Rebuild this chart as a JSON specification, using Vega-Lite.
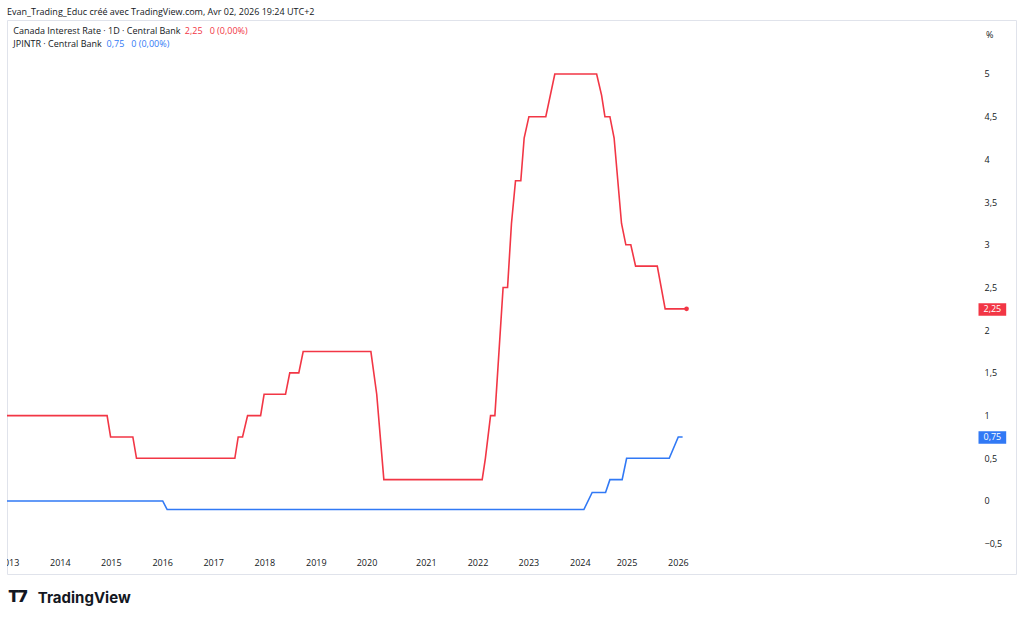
{
  "$schema": "https://vega.github.io/schema/vega-lite/v6.json",
  "autosize": {"type": "none"},
  "padding": {"left": 7, "top": 20, "right": 8, "bottom": 46},
  "width": 1009,
  "height": 554,
  "background": "#ffffff",
  "config": {
    "font": "Open Sans",
    "view": {"stroke": "#e0e3eb", "strokeWidth": 1}
  },
  "title": {
    "text": "Evan_Trading_Educ créé avec TradingView.com, Avr 02, 2026 19:24 UTC+2",
    "anchor": "start",
    "frame": "group",
    "offset": -4,
    "baseline": "alphabetic",
    "font": "Open Sans",
    "fontSize": 9,
    "fontWeight": "normal",
    "color": "#131722"
  },
  "datasets": {
    "rates": [
      {"series": "Canada Interest Rate", "date": "2012-12-01", "rate": 1.0},
      {"series": "Canada Interest Rate", "date": "2014-12-02", "rate": 1.0},
      {"series": "Canada Interest Rate", "date": "2014-12-27", "rate": 0.75},
      {"series": "Canada Interest Rate", "date": "2015-06-03", "rate": 0.75},
      {"series": "Canada Interest Rate", "date": "2015-06-29", "rate": 0.5},
      {"series": "Canada Interest Rate", "date": "2017-06-01", "rate": 0.5},
      {"series": "Canada Interest Rate", "date": "2017-06-25", "rate": 0.75},
      {"series": "Canada Interest Rate", "date": "2017-07-26", "rate": 0.75},
      {"series": "Canada Interest Rate", "date": "2017-08-31", "rate": 1.0},
      {"series": "Canada Interest Rate", "date": "2017-12-02", "rate": 1.0},
      {"series": "Canada Interest Rate", "date": "2017-12-27", "rate": 1.25},
      {"series": "Canada Interest Rate", "date": "2018-05-28", "rate": 1.25},
      {"series": "Canada Interest Rate", "date": "2018-06-27", "rate": 1.5},
      {"series": "Canada Interest Rate", "date": "2018-08-30", "rate": 1.5},
      {"series": "Canada Interest Rate", "date": "2018-09-30", "rate": 1.75},
      {"series": "Canada Interest Rate", "date": "2020-01-25", "rate": 1.75},
      {"series": "Canada Interest Rate", "date": "2020-03-01", "rate": 1.25},
      {"series": "Canada Interest Rate", "date": "2020-04-14", "rate": 0.25},
      {"series": "Canada Interest Rate", "date": "2022-01-31", "rate": 0.25},
      {"series": "Canada Interest Rate", "date": "2022-02-23", "rate": 0.5},
      {"series": "Canada Interest Rate", "date": "2022-04-01", "rate": 1.0},
      {"series": "Canada Interest Rate", "date": "2022-05-02", "rate": 1.0},
      {"series": "Canada Interest Rate", "date": "2022-06-30", "rate": 2.5},
      {"series": "Canada Interest Rate", "date": "2022-08-01", "rate": 2.5},
      {"series": "Canada Interest Rate", "date": "2022-08-29", "rate": 3.25},
      {"series": "Canada Interest Rate", "date": "2022-09-27", "rate": 3.75},
      {"series": "Canada Interest Rate", "date": "2022-11-04", "rate": 3.75},
      {"series": "Canada Interest Rate", "date": "2022-11-28", "rate": 4.25},
      {"series": "Canada Interest Rate", "date": "2023-01-01", "rate": 4.5},
      {"series": "Canada Interest Rate", "date": "2023-05-01", "rate": 4.5},
      {"series": "Canada Interest Rate", "date": "2023-07-04", "rate": 5.0},
      {"series": "Canada Interest Rate", "date": "2024-05-08", "rate": 5.0},
      {"series": "Canada Interest Rate", "date": "2024-06-16", "rate": 4.75},
      {"series": "Canada Interest Rate", "date": "2024-07-12", "rate": 4.5},
      {"series": "Canada Interest Rate", "date": "2024-08-20", "rate": 4.5},
      {"series": "Canada Interest Rate", "date": "2024-09-22", "rate": 4.25},
      {"series": "Canada Interest Rate", "date": "2024-11-19", "rate": 3.25},
      {"series": "Canada Interest Rate", "date": "2024-12-23", "rate": 3.0},
      {"series": "Canada Interest Rate", "date": "2025-01-28", "rate": 3.0},
      {"series": "Canada Interest Rate", "date": "2025-03-03", "rate": 2.75},
      {"series": "Canada Interest Rate", "date": "2025-08-04", "rate": 2.75},
      {"series": "Canada Interest Rate", "date": "2025-09-29", "rate": 2.25},
      {"series": "Canada Interest Rate", "date": "2026-02-28", "rate": 2.25},
      {"series": "JPINTR", "date": "2012-12-01", "rate": 0.0},
      {"series": "JPINTR", "date": "2016-01-01", "rate": 0.0},
      {"series": "JPINTR", "date": "2016-02-02", "rate": -0.1},
      {"series": "JPINTR", "date": "2024-01-29", "rate": -0.1},
      {"series": "JPINTR", "date": "2024-04-03", "rate": 0.1},
      {"series": "JPINTR", "date": "2024-07-17", "rate": 0.1},
      {"series": "JPINTR", "date": "2024-08-20", "rate": 0.25},
      {"series": "JPINTR", "date": "2024-11-24", "rate": 0.25},
      {"series": "JPINTR", "date": "2024-12-29", "rate": 0.5},
      {"series": "JPINTR", "date": "2025-10-28", "rate": 0.5},
      {"series": "JPINTR", "date": "2025-12-31", "rate": 0.75},
      {"series": "JPINTR", "date": "2026-01-31", "rate": 0.75}
    ],
    "years": [
      {"label": "2013", "date": "2013-01-01"},
      {"label": "2014", "date": "2014-01-01"},
      {"label": "2015", "date": "2015-01-01"},
      {"label": "2016", "date": "2016-01-01"},
      {"label": "2017", "date": "2017-01-01"},
      {"label": "2018", "date": "2018-01-01"},
      {"label": "2019", "date": "2019-01-01"},
      {"label": "2020", "date": "2020-01-01"},
      {"label": "2021", "date": "2021-01-01"},
      {"label": "2022", "date": "2022-01-01"},
      {"label": "2023", "date": "2023-01-01"},
      {"label": "2024", "date": "2024-01-01"},
      {"label": "2025", "date": "2025-01-01"},
      {"label": "2026", "date": "2026-01-01"}
    ]
  },
  "resolve": {"axis": {"y": "independent"}},
  "layer": [
    {
      "name": "lines",
      "data": {"name": "rates"},
      "mark": {"type": "line", "strokeWidth": 1.6, "clip": true},
      "encoding": {
        "x": {
          "field": "date",
          "type": "temporal",
          "scale": {
            "type": "utc",
            "nice": false,
            "domain": {"expr": "[utc(2012,11,17), utc(2013,0,1), utc(2014,0,1), utc(2015,0,1), utc(2016,0,1), utc(2017,0,1), utc(2018,0,1), utc(2019,0,1), utc(2020,0,1), utc(2021,0,1), utc(2022,0,1), utc(2023,0,1), utc(2024,0,1), utc(2025,0,1), utc(2026,0,1), utc(2032,6,26)]"},
            "range": [0, 2.1, 53.3, 104.3, 155.7, 206.7, 257.8, 309.3, 360, 419.3, 471, 521.9, 573.3, 620, 671.4, 1009]
          },
          "axis": null
        },
        "y": {
          "field": "rate",
          "type": "quantitative",
          "scale": {"domain": [-0.8548, 5.6323], "nice": false, "zero": false},
          "axis": {
            "orient": "right",
            "offset": -32,
            "values": [-0.5, 0, 0.5, 1, 1.5, 2, 2.5, 3, 3.5, 4, 4.5, 5],
            "labelExpr": "replace(format(datum.value, '.1~f'), '.', ',')",
            "domain": false,
            "ticks": false,
            "tickSize": 0,
            "grid": false,
            "labelPadding": 0,
            "labelAlign": "left",
            "labelBaseline": "middle",
            "labelOverlap": false,
            "labelFont": "Open Sans",
            "labelFontSize": 9,
            "labelColor": "#131722",
            "title": "%",
            "titleAngle": 0,
            "titleX": 5.3,
            "titleY": 14.3,
            "titleAlign": "center",
            "titleBaseline": "middle",
            "titleFont": "Open Sans",
            "titleFontSize": 9,
            "titleFontWeight": "normal",
            "titleColor": "#131722"
          }
        },
        "color": {
          "field": "series",
          "type": "nominal",
          "scale": {"domain": ["Canada Interest Rate", "JPINTR"], "range": ["#f23645", "#3179f5"]},
          "legend": null
        }
      }
    },
    {
      "name": "last_value",
      "data": {"name": "rates"},
      "transform": [
        {"filter": "datum.series === 'Canada Interest Rate'"},
        {"joinaggregate": [{"op": "max", "field": "date", "as": "last"}]},
        {"filter": "time(datum.date) === time(datum.last)"}
      ],
      "mark": {"type": "point", "filled": true, "opacity": 1, "size": 22, "color": "#f23645"},
      "encoding": {
        "x": {"field": "date", "type": "temporal", "axis": null},
        "y": {
          "field": "rate",
          "type": "quantitative",
          "axis": {
            "orient": "right",
            "offset": -38,
            "values": [2.25, 0.75],
            "labelExpr": "replace(format(datum.value, '.2f'), '.', ',')",
            "domain": false,
            "grid": false,
            "ticks": true,
            "tickSize": 27.7,
            "tickWidth": 12.5,
            "tickCap": "butt",
            "tickColor": {"expr": "datum.value > 1 ? '#f23645' : '#3179f5'"},
            "labelPadding": -22.7,
            "labelAlign": "left",
            "labelBaseline": "middle",
            "labelOverlap": false,
            "labelFont": "Open Sans",
            "labelFontSize": 9,
            "labelColor": "#ffffff",
            "title": "TradingView",
            "titleAngle": 0,
            "titleX": -940.7,
            "titleY": 582,
            "titleAlign": "left",
            "titleBaseline": "alphabetic",
            "titleFont": "Inter",
            "titleFontSize": 15,
            "titleFontWeight": 700,
            "titleColor": "#131722"
          }
        }
      }
    },
    {
      "name": "time_axis_labels",
      "data": {"name": "years"},
      "mark": {"type": "text", "align": "center", "baseline": "middle", "font": "Open Sans", "fontSize": 9, "color": "#131722", "clip": true},
      "encoding": {
        "x": {"field": "date", "type": "temporal", "axis": null},
        "y": {"datum": -0.726, "type": "quantitative", "axis": null},
        "text": {"field": "label"}
      }
    },
    {
      "name": "logo_mark",
      "data": {"values": [{}]},
      "mark": {"type": "text", "align": "left", "baseline": "alphabetic", "font": "Inter", "fontSize": 16, "fontWeight": 900, "color": "#131722", "text": "T7"},
      "encoding": {
        "x": {"datum": {"year": 2012, "month": 12, "date": 26, "utc": true}, "type": "temporal", "axis": null},
        "y": {"datum": -1.1827, "type": "quantitative", "axis": null}
      }
    },
    {
      "name": "legend_canada_name",
      "data": {"values": [{}]},
      "mark": {"type": "text", "align": "left", "baseline": "alphabetic", "font": "Open Sans", "fontSize": 9, "color": "#131722", "text": "Canada Interest Rate · 1D · Central Bank"},
      "encoding": {
        "x": {"datum": {"year": 2013, "month": 1, "date": 31, "utc": true}, "type": "temporal", "axis": null},
        "y": {"datum": 5.465, "type": "quantitative", "axis": null}
      }
    },
    {
      "name": "legend_canada_value",
      "data": {"values": [{}]},
      "mark": {"type": "text", "align": "left", "baseline": "alphabetic", "font": "Open Sans", "fontSize": 9, "color": "#f23645", "text": "2,25\u00a0\u00a0\u00a00 (0,00%)"},
      "encoding": {
        "x": {"datum": {"year": 2016, "month": 6, "date": 8, "utc": true}, "type": "temporal", "axis": null},
        "y": {"datum": 5.465, "type": "quantitative", "axis": null}
      }
    },
    {
      "name": "legend_jp_name",
      "data": {"values": [{}]},
      "mark": {"type": "text", "align": "left", "baseline": "alphabetic", "font": "Open Sans", "fontSize": 9, "color": "#131722", "text": "JPINTR · Central Bank"},
      "encoding": {
        "x": {"datum": {"year": 2013, "month": 1, "date": 31, "utc": true}, "type": "temporal", "axis": null},
        "y": {"datum": 5.319, "type": "quantitative", "axis": null}
      }
    },
    {
      "name": "legend_jp_value",
      "data": {"values": [{}]},
      "mark": {"type": "text", "align": "left", "baseline": "alphabetic", "font": "Open Sans", "fontSize": 9, "color": "#3179f5", "text": "0,75\u00a0\u00a0\u00a00 (0,00%)"},
      "encoding": {
        "x": {"datum": {"year": 2014, "month": 11, "date": 28, "utc": true}, "type": "temporal", "axis": null},
        "y": {"datum": 5.319, "type": "quantitative", "axis": null}
      }
    }
  ]
}
